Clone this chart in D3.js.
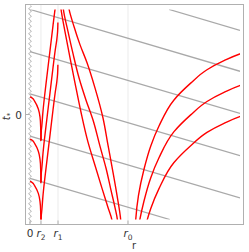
<!DOCTYPE html>
<html>
<head>
<meta charset="utf-8">
<script src="https://cdn.jsdelivr.net/npm/d3@7"></script>
<style>
  body { margin: 0; background: #fff; }
  text { font-family: "DejaVu Sans", sans-serif; fill: #333; }
</style>
</head>
<body>
<svg id="chart" width="249" height="252"></svg>
<script>
// radii marked on the r axis
const horizonLabels = ["r2", "r1", "r0"];
const horizonR = [0.112, 0.286, 1.0];
const rMax = 2.143;
const tMax = 3.64;

// ingoing null lines t = v - r
const ingoingV = [-2.213, -0.749, 0.714, 2.178, 3.641, 5.06];

// red rays inside r2: shape [r, dt] and start times at r = 0
const innerShape = [[0, 0], [0.02, -0.035], [0.051, -0.174], [0.085, -0.418], [0.102, -0.697], [0.109, -1.045], [0.111, -1.533]];
const innerStart = [0.61, -0.854, -2.317];

// red rays between r2 and r1: shape [r, dt] and times where they leave r2
const middleShape = [[0.1133, -0.488], [0.1153, -0.174], [0.1204, 0], [0.1327, 0.523], [0.1633, 1.463], [0.2041, 2.613], [0.2347, 3.484], [0.2582, 4.111], [0.2735, 4.46], [0.2816, 4.739], [0.2847, 5.052]];
const middleStart = [-0.401, -1.864, -3.328];

// red rays between r1 and r0, [r, t]
const raysTrapped = [
  [[0.306, 3.98], [0.3163, 3.659], [0.357, 2.875], [0.408, 1.969], [0.459, 1.098], [0.52, 0.087], [0.592, -0.958], [0.663, -1.76], [0.735, -2.561], [0.796, -3.223], [0.837, -3.676], [0.842, -3.9]],
  [[0.332, 3.99], [0.34, 3.659], [0.388, 2.875], [0.439, 2.108], [0.5, 1.272], [0.571, 0.505], [0.643, -0.192], [0.714, -1.098], [0.776, -1.864], [0.827, -2.631], [0.867, -3.223], [0.893, -3.676], [0.897, -3.9]],
  [[0.383, 3.99], [0.398, 3.659], [0.449, 3.049], [0.51, 2.422], [0.582, 1.794], [0.663, 0.923], [0.745, -0.122], [0.796, -1.063], [0.847, -2.003], [0.888, -2.805], [0.926, -3.676], [0.93, -3.9]]
];

// red rays outside r0: shape [r, t] and time shifts
const outerShape = [[1.0735, -3.955], [1.0786, -3.652], [1.1071, -2.805], [1.1633, -1.899], [1.2316, -1.098], [1.3163, -0.401], [1.4694, 0.505], [1.6398, 1.087], [1.8061, 1.551], [1.9796, 1.864], [2.1398, 2.098], [2.163, 2.125]];
const outerShift = [0, -1.1, -2.17];

const shifted = (shape, dts) => dts.map(s => shape.map(([r, t]) => [r, t + s]));
const rays = [
  ...shifted(innerShape, innerStart),
  ...shifted(middleShape, middleStart),
  ...raysTrapped,
  ...shifted(outerShape, outerShift)
];

const svg = d3.select("#chart");
const x = d3.scaleLinear().domain([0, rMax]).range([30, 240]);
const y = d3.scaleLinear().domain([-tMax, tMax]).range([219.5, 9.5]);

const frame = {left: 25.5, right: 243.5, top: 4.5, bottom: 224.5};

svg.append("defs").append("clipPath").attr("id", "plot")
  .append("rect")
  .attr("x", frame.left).attr("y", y(tMax))
  .attr("width", x(rMax) - frame.left).attr("height", y(-tMax) - y(tMax));

// faint grid at the horizons
svg.append("g").selectAll("line").data(horizonR).join("line")
  .attr("x1", d => x(d)).attr("x2", d => x(d))
  .attr("y1", frame.top).attr("y2", frame.bottom)
  .attr("stroke", "#ebebeb").attr("stroke-width", 1);

// singularity at r = 0
const wave = d3.range(frame.top + 1, frame.bottom - 1, 0.5)
  .map(py => [x(0) + 1.2 * Math.sin(py / 5 * 2 * Math.PI), py]);
svg.append("path")
  .attr("d", d3.line()(wave))
  .attr("fill", "none").attr("stroke", "#a8a8a8").attr("stroke-width", 0.9);

const plot = svg.append("g").attr("clip-path", "url(#plot)");

// ingoing lines
plot.selectAll("line.in").data(ingoingV).join("line")
  .attr("class", "in")
  .attr("x1", v => x(Math.max(0, v - tMax)))
  .attr("y1", v => y(v - Math.max(0, v - tMax)))
  .attr("x2", v => x(Math.min(rMax, v + tMax)))
  .attr("y2", v => y(v - Math.min(rMax, v + tMax)))
  .attr("stroke", "#a9a9a9").attr("stroke-width", 1.3);

// rays are monotone in t, so draw them top to bottom with a monotone curve
const ray = d3.line().x(d => x(d[0])).y(d => y(d[1])).curve(d3.curveMonotoneY);
plot.selectAll("path.ray")
  .data(rays.map(c => c.slice().sort((a, b) => b[1] - a[1])))
  .join("path")
  .attr("class", "ray")
  .attr("d", ray)
  .attr("fill", "none").attr("stroke", "#ff0000").attr("stroke-width", 1.4);

// frame
svg.append("rect")
  .attr("x", frame.left).attr("y", frame.top)
  .attr("width", frame.right - frame.left).attr("height", frame.bottom - frame.top)
  .attr("fill", "none").attr("stroke", "#b0b0b0").attr("stroke-width", 1);

// ticks
const bottomTicks = [{r: 0, label: "0"}].concat(horizonR.map((r, i) => ({r, label: horizonLabels[i]})));
svg.append("g").selectAll("line").data(bottomTicks).join("line")
  .attr("x1", d => x(d.r)).attr("x2", d => x(d.r))
  .attr("y1", frame.bottom).attr("y2", frame.bottom - 4)
  .attr("stroke", "#b0b0b0");
svg.append("line")
  .attr("x1", frame.left).attr("x2", frame.left + 4)
  .attr("y1", y(0)).attr("y2", y(0)).attr("stroke", "#b0b0b0");

const tl = svg.append("g").selectAll("text").data(bottomTicks).join("text")
  .attr("x", d => x(d.r)).attr("y", 237)
  .attr("text-anchor", "middle").attr("font-size", 10.5);
tl.each(function(d) {
  const t = d3.select(this);
  if (d.label === "0") { t.text("0"); return; }
  t.append("tspan").attr("font-style", "italic").text(d.label[0]);
  t.append("tspan").attr("font-size", 7.5).attr("dy", 3).text(d.label.slice(1));
});

svg.append("text").attr("x", 22).attr("y", y(0) + 4)
  .attr("text-anchor", "end").attr("font-size", 10.5).text("0");

svg.append("text").attr("x", 134).attr("y", 249)
  .attr("text-anchor", "middle").attr("font-size", 10).text("r");

const tLabel = svg.append("text")
  .attr("transform", `translate(10,${y(0) + 2}) rotate(-90)`)
  .attr("text-anchor", "middle").attr("font-size", 10);
tLabel.append("tspan").attr("font-style", "italic").text("t");
tLabel.append("tspan").attr("font-size", 7).attr("dy", 2).text("*");
</script>
</body>
</html>
